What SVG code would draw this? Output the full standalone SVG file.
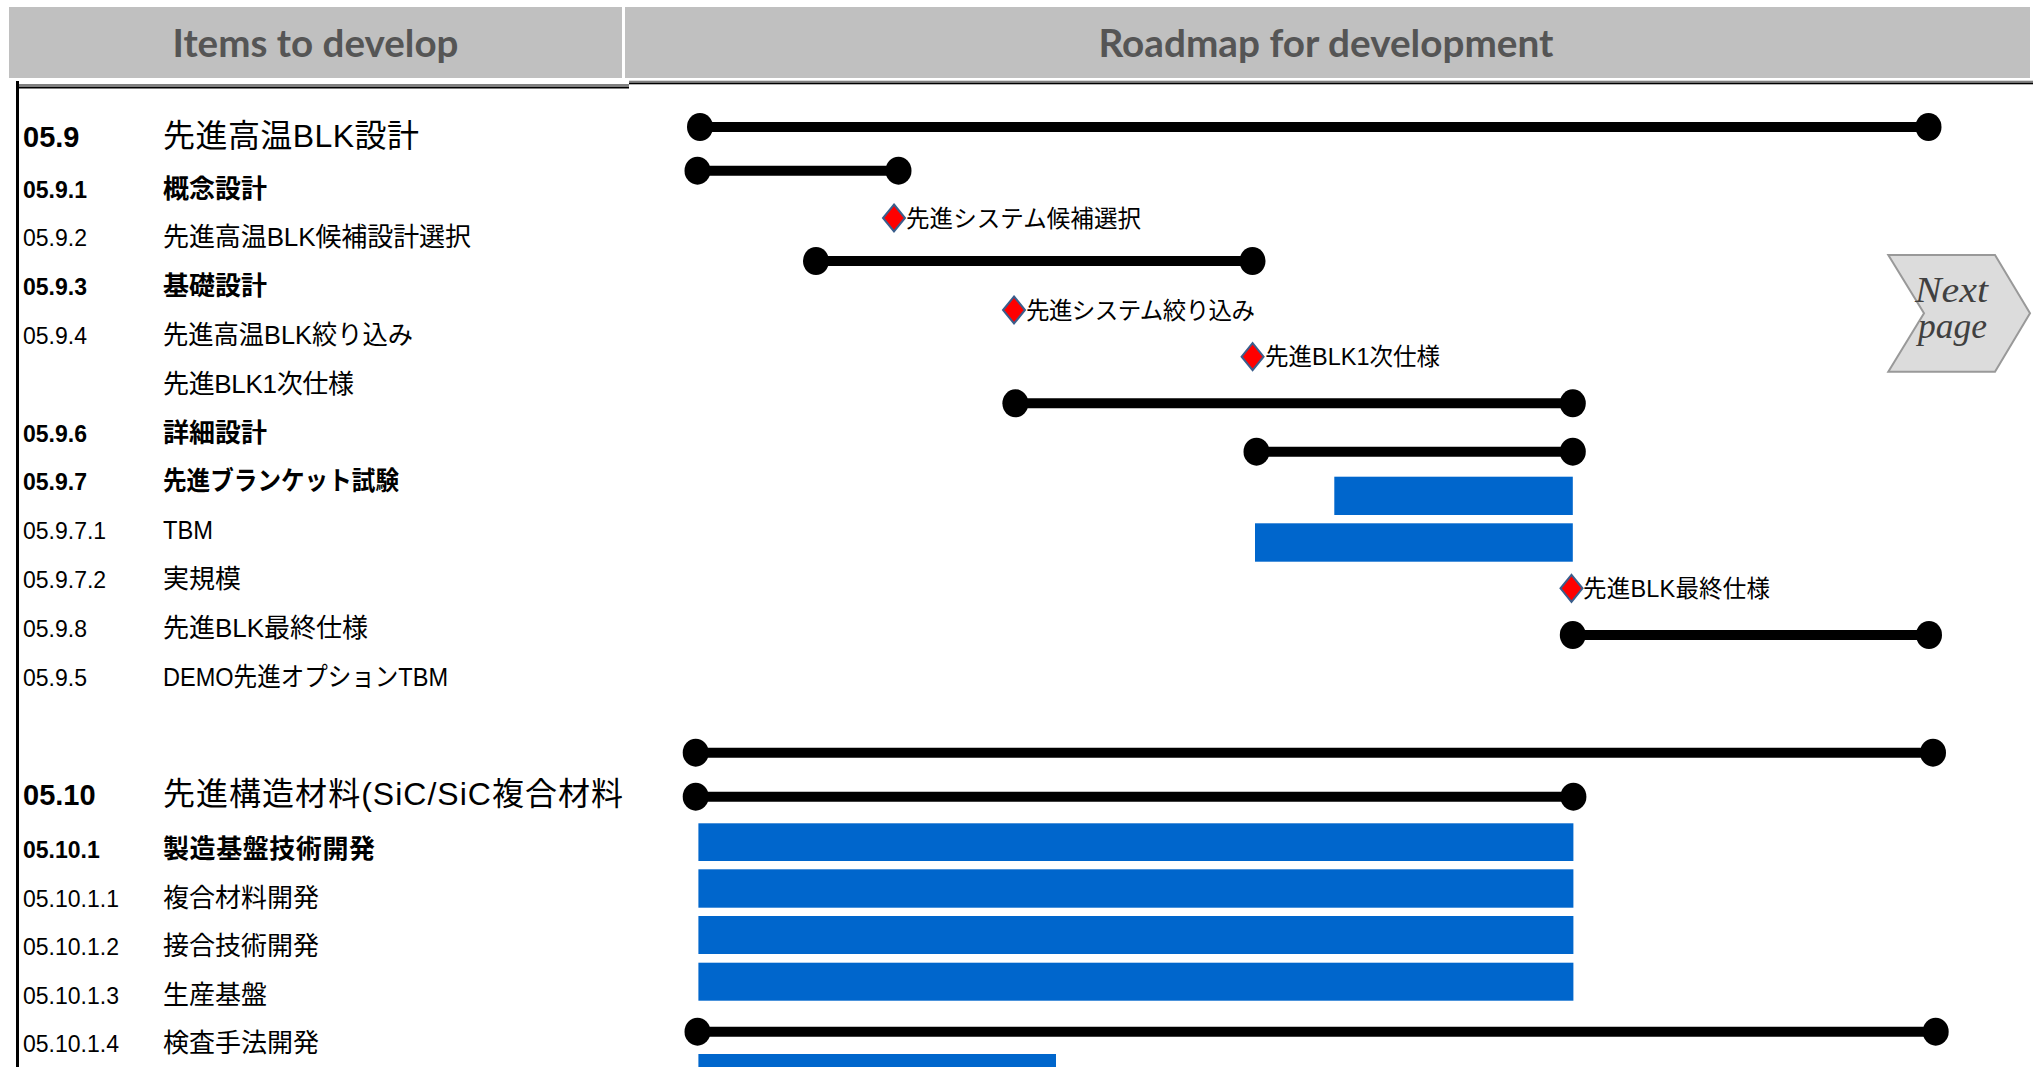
<svg xmlns="http://www.w3.org/2000/svg" xmlns:xlink="http://www.w3.org/1999/xlink" width="2033" height="1067" viewBox="0 0 2033 1067">
<style>
.hdr{fill:#C0C0C0;}
.htxt{font-family:Lato,"Open Sans","Liberation Sans",sans-serif;font-weight:bold;font-size:38px;fill:#555555;}
.num{font-family:"Liberation Sans",Arial,sans-serif;font-size:23px;fill:#000;}
.numL{font-family:"Liberation Sans",Arial,sans-serif;font-size:29px;font-weight:bold;fill:#000;}
.lbl{font-family:"Liberation Sans","Noto Sans CJK JP",sans-serif;font-size:26px;fill:#000;}
.lblL{font-family:"Liberation Sans","Noto Sans CJK JP",sans-serif;font-size:32px;fill:#000;}
.b{font-weight:bold;}
.mtxt{font-family:"Liberation Sans","Noto Sans CJK JP",sans-serif;font-size:23.5px;fill:#000;}
.bar{stroke:#000;stroke-width:10;fill:none;marker-start:url(#dot);marker-end:url(#dot);}
.blue{fill:#0066CC;}
.nxt{font-family:"Liberation Serif","Times New Roman",serif;font-style:italic;font-size:35px;fill:#404040;}
</style>
<defs>
<marker id="dot" viewBox="-15 -15 30 30" markerWidth="30" markerHeight="30" markerUnits="userSpaceOnUse" refX="0" refY="0" orient="0">
<ellipse cx="0" cy="0" rx="13" ry="14" fill="#000"/>
</marker>
<path id="diamond" d="M0,-13.5 L11,0 L0,13.5 L-11,0 Z" fill="#FF0000" stroke="#3A5E8C" stroke-width="2"/>
<clipPath id="leftclip"><rect x="0" y="0" width="626" height="1067"/></clipPath>
</defs>
<rect x="0" y="0" width="2033" height="1067" fill="#FFFFFF"/>

<g id="header">
<rect class="hdr" x="9" y="7" width="613" height="71"/>
<rect class="hdr" x="625" y="7" width="1405" height="71"/>
<text class="htxt" x="315.5" y="57" text-anchor="middle" textLength="286" lengthAdjust="spacingAndGlyphs">Items to develop</text>
<text class="htxt" x="1326" y="57" text-anchor="middle" textLength="455" lengthAdjust="spacingAndGlyphs">Roadmap for development</text>
<rect x="17" y="84" width="612" height="2" fill="#808080"/>
<rect x="17" y="86.5" width="612" height="2" fill="#000"/>
<rect x="629" y="80.7" width="1404" height="2" fill="#808080"/>
<rect x="629" y="82.7" width="1404" height="1.6" fill="#000"/>
<rect x="16" y="81" width="3" height="986" fill="#000"/>
</g>

<g id="items" clip-path="url(#leftclip)">
<g id="row-05-9"><text class="numL" x="23" y="147">05.9</text><text class="lblL" x="163" y="147" textLength="256">先進高温BLK設計</text></g>
<g id="row-05-9-1"><text class="num b" x="23" y="197.5">05.9.1</text><text class="lbl b" x="163" y="197.5">概念設計</text></g>
<g id="row-05-9-2"><text class="num" x="23" y="246.3">05.9.2</text><text class="lbl" x="163" y="246.3" textLength="308">先進高温BLK候補設計選択</text></g>
<g id="row-05-9-3"><text class="num b" x="23" y="295.1">05.9.3</text><text class="lbl b" x="163" y="295.1">基礎設計</text></g>
<g id="row-05-9-4"><text class="num" x="23" y="343.9">05.9.4</text><text class="lbl" x="163" y="343.9" textLength="250" lengthAdjust="spacingAndGlyphs">先進高温BLK絞り込み</text></g>
<g id="row-blk1"><text class="lbl" x="163" y="392.7" textLength="191">先進BLK1次仕様</text></g>
<g id="row-05-9-6"><text class="num b" x="23" y="441.5">05.9.6</text><text class="lbl b" x="163" y="441.5">詳細設計</text></g>
<g id="row-05-9-7"><text class="num b" x="23" y="490.3">05.9.7</text><text class="lbl b" x="163" y="490.3" textLength="236" lengthAdjust="spacingAndGlyphs">先進ブランケット試験</text></g>
<g id="row-05-9-7-1"><text class="num" x="23" y="539.1">05.9.7.1</text><text class="lbl" x="163" y="539.1" textLength="50" lengthAdjust="spacingAndGlyphs">TBM</text></g>
<g id="row-05-9-7-2"><text class="num" x="23" y="587.9">05.9.7.2</text><text class="lbl" x="163" y="587.9">実規模</text></g>
<g id="row-05-9-8"><text class="num" x="23" y="636.7">05.9.8</text><text class="lbl" x="163" y="636.7" textLength="205">先進BLK最終仕様</text></g>
<g id="row-05-9-5"><text class="num" x="23" y="685.5">05.9.5</text><text class="lbl" x="163" y="685.5" textLength="285" lengthAdjust="spacingAndGlyphs">DEMO先進オプションTBM</text></g>
<g id="row-05-10"><text class="numL" x="23" y="805">05.10</text><text class="lblL" x="163" y="805" textLength="460">先進構造材料(SiC/SiC複合材料</text></g>
<g id="row-05-10-1"><text class="num b" x="23" y="858">05.10.1</text><text class="lbl b" x="163" y="858" textLength="212">製造基盤技術開発</text></g>
<g id="row-05-10-1-1"><text class="num" x="23" y="906.5">05.10.1.1</text><text class="lbl" x="163" y="906.5">複合材料開発</text></g>
<g id="row-05-10-1-2"><text class="num" x="23" y="955">05.10.1.2</text><text class="lbl" x="163" y="955">接合技術開発</text></g>
<g id="row-05-10-1-3"><text class="num" x="23" y="1003.5">05.10.1.3</text><text class="lbl" x="163" y="1003.5">生産基盤</text></g>
<g id="row-05-10-1-4"><text class="num" x="23" y="1052">05.10.1.4</text><text class="lbl" x="163" y="1052">検査手法開発</text></g>
</g>

<g id="connectors">
<line class="bar" x1="700" y1="127" x2="1928.5" y2="127"/>
<line class="bar" x1="697.5" y1="170.7" x2="898.5" y2="170.7"/>
<line class="bar" x1="816" y1="261" x2="1252.5" y2="261"/>
<line class="bar" x1="1015.4" y1="403.3" x2="1572.8" y2="403.3"/>
<line class="bar" x1="1256.5" y1="451.7" x2="1572.8" y2="451.7"/>
<line class="bar" x1="1572.8" y1="635" x2="1929" y2="635"/>
<line class="bar" x1="695.7" y1="752.7" x2="1933" y2="752.7"/>
<line class="bar" x1="695.7" y1="796.7" x2="1573.4" y2="796.7"/>
<line class="bar" x1="697.5" y1="1031.7" x2="1935.7" y2="1031.7"/>
</g>

<g id="tasks">
<rect class="blue" x="1334.3" y="476.7" width="238.5" height="38.3"/>
<rect class="blue" x="1255" y="523.3" width="317.8" height="38.4"/>
<rect class="blue" x="698.4" y="823.3" width="875" height="37.7"/>
<rect class="blue" x="698.4" y="869.3" width="875" height="38.4"/>
<rect class="blue" x="698.4" y="916" width="875" height="38"/>
<rect class="blue" x="698.4" y="962.7" width="875" height="38"/>
<rect class="blue" x="698.4" y="1054" width="357.6" height="14"/>
</g>

<g id="milestones">
<g id="ms-1"><use xlink:href="#diamond" x="894" y="218"/><text class="mtxt" x="906" y="226.5" textLength="235">先進システム候補選択</text></g>
<g id="ms-2"><use xlink:href="#diamond" x="1014" y="310"/><text class="mtxt" x="1026" y="318.5" textLength="229">先進システム絞り込み</text></g>
<g id="ms-3"><use xlink:href="#diamond" x="1252.6" y="356.7"/><text class="mtxt" x="1265" y="365.2" textLength="175">先進BLK1次仕様</text></g>
<g id="ms-4"><use xlink:href="#diamond" x="1571.5" y="588.3"/><text class="mtxt" x="1583" y="596.8" textLength="187">先進BLK最終仕様</text></g>
</g>

<g id="next-page">
<polygon points="1888.3,255 1995,255 2030,313.3 1995,371.7 1888.3,371.7 1924,313.3" fill="#DCDCDC" stroke="#999999" stroke-width="2"/>
<text class="nxt" x="1915" y="302" textLength="73" lengthAdjust="spacingAndGlyphs">Next</text>
<text class="nxt" x="1918" y="338" textLength="69" lengthAdjust="spacingAndGlyphs">page</text>
</g>
</svg>
